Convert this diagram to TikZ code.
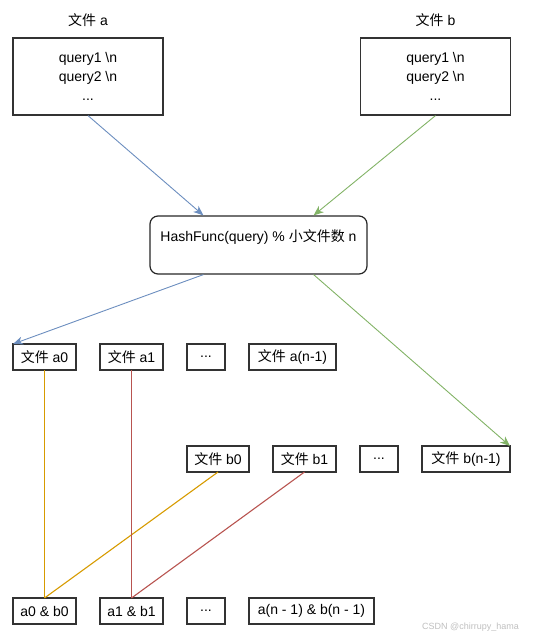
\documentclass[tikz,border=0pt]{standalone}
\usepackage{fontspec}
\setmainfont{Liberation Sans}
\newfontfamily\cjk{Noto Sans CJK SC}
\newcommand{\zh}[1]{{\cjk #1}}
\usetikzlibrary{positioning,arrows.meta}
\definecolor{hashblue}{HTML}{6C8EBF}
\definecolor{hashgreen}{HTML}{82B366}
\definecolor{pairorange}{HTML}{D79B00}
\definecolor{pairred}{HTML}{B85450}
\tikzstyle{bigfile} = [draw=black!80, line width=1.2pt, rectangle, text centered, align=center, minimum width=150pt, minimum height=77pt, inner sep=0pt]
\tikzstyle{title} = [text centered, inner sep=0pt]
\tikzstyle{hashing} = [draw=black!85, line width=1.2pt, rectangle, rounded corners=8pt, minimum width=217pt, inner xsep=0pt, inner ysep=14pt, text height=11pt, text depth=19pt]
\tikzstyle{small} = [draw=black!80, line width=1.2pt, rectangle, text centered, minimum height=26pt, inner sep=0pt, outer sep=0pt]
\tikzstyle{line} = [draw, line width=0.9pt, -{Stealth[length=10pt,width=8pt,inset=3pt]}]
\tikzstyle{pair} = [draw, line width=1.1pt]

\begin{document}
\begin{tikzpicture}[x=1pt, y=-1pt, node distance=24pt, font=\fontsize{14}{19}\selectfont]
    \useasboundingbox (0,0) rectangle (537,638);

    % Place nodes
    \node [bigfile] (file-a) at (88,76.5) {query1 \textbackslash n\\query2 \textbackslash n\\...};
    \node [bigfile] (file-b) at (435.5,76.5) {query1 \textbackslash n\\query2 \textbackslash n\\...};
    \node [title, above=11pt of file-a] (title-a) {\zh{文件} a};
    \node [title, above=11pt of file-b] (title-b) {\zh{文件} b};
    \node [hashing] (hash) at (258.5,245) {HashFunc(query) \% \zh{小文件数} n};
    % small files of a
    \node [small, minimum width=63pt] (a0) at (44.5,357) {\zh{文件} a0};
    \node [small, minimum width=63pt, right=of a0] (a1) {\zh{文件} a1};
    \node [small, minimum width=38pt, right=of a1] (a-dots) {...};
    \node [small, minimum width=87pt, right=of a-dots] (an) {\zh{文件} a(n-1)};
    % small files of b
    \node [small, minimum width=62pt] (b0) at (218,459) {\zh{文件} b0};
    \node [small, minimum width=63pt, right=of b0] (b1) {\zh{文件} b1};
    \node [small, minimum width=38pt, right=of b1] (b-dots) {...};
    \node [small, minimum width=88pt, right=of b-dots] (bn) {\zh{文件} b(n-1)};
    % pairs
    \node [small, minimum width=63pt] (ab0) at (44.5,611) {a0 \& b0};
    \node [small, minimum width=63pt, right=of ab0] (ab1) {a1 \& b1};
    \node [small, minimum width=38pt, right=of ab1] (ab-dots) {...};
    \node [small, minimum width=125pt, right=of ab-dots] (abn) {a(n - 1) \& b(n - 1)};
    \node [anchor=east, inner sep=0pt, text=black!25, font=\fontsize{9}{10}\selectfont] (mark) at (519,627) {CSDN @chirrupy\_hama};

    % Draw edges
    \path [line, hashblue] (file-a.south) -- ([xshift=54pt]hash.north west);
    \path [line, hashgreen] (file-b.south) -- ([xshift=-54pt]hash.north east);
    \path [line, hashblue] ([xshift=54pt]hash.south west) -- (a0.north west);
    \path [line, hashgreen] ([xshift=-54pt]hash.south east) -- (bn.north east);
    \path [pair, pairorange] (a0.south) -- (ab0.north);
    \path [pair, pairorange] (b0.south) -- (ab0.north);
    \path [pair, pairred] (a1.south) -- (ab1.north);
    \path [pair, pairred] (b1.south) -- (ab1.north);
\end{tikzpicture}
\end{document}
